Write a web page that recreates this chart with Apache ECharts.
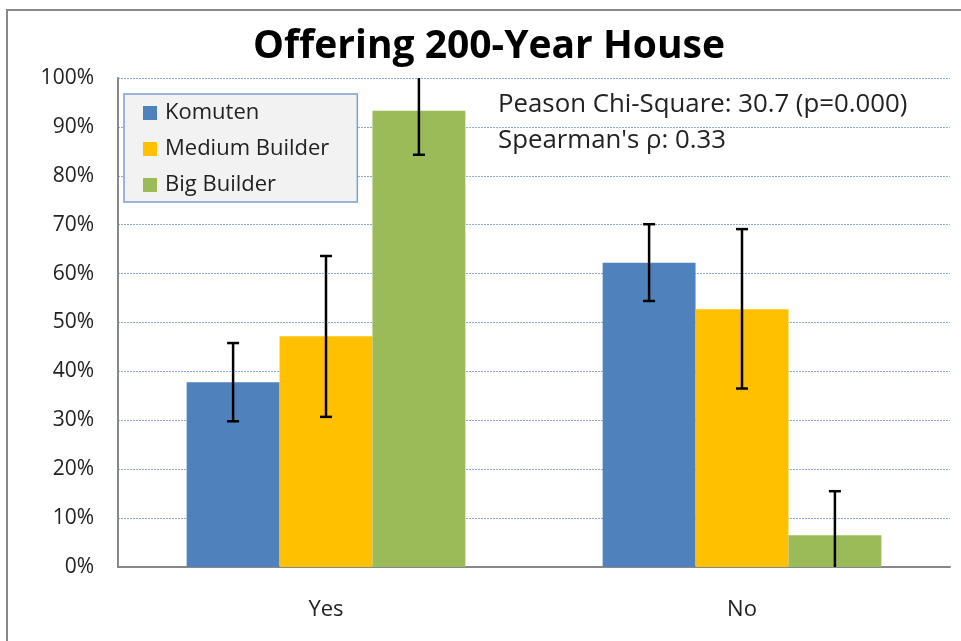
<!DOCTYPE html>
<html>
<head>
<meta charset="utf-8">
<script src="https://cdn.jsdelivr.net/npm/echarts@6/dist/echarts.min.js"></script>
<style>
  html, body { margin: 0; padding: 0; background: #fff; }
  #chart { width: 961px; height: 641px; }
</style>
</head>
<body>
<div id="chart"></div>
<script>
// chart data
const categories = ['Yes', 'No'];
const seriesNames = ['Komuten', 'Medium Builder', 'Big Builder'];
const colors = ['#4f81bd', '#ffc000', '#9bbb59'];
const komuten = [37.8, 62.2];
const mediumBuilder = [47.2, 52.7];
const bigBuilder = [93.3, 6.5];
// error bar ends (low / high), in %
const komutenErr = [[29.8, 45.8], [54.4, 70.1]];
const mediumErr = [[30.7, 63.6], [36.5, 69.1]];
const bigErr = [[84.3, 102.3], [-2.5, 15.5]];
const yTicks = [0, 10, 20, 30, 40, 50, 60, 70, 80, 90, 100];

const values = [komuten, mediumBuilder, bigBuilder];
const errs = [komutenErr, mediumErr, bigErr];
const font = '"Open Sans", "Noto Sans", sans-serif';

const barFrac = 0.67 / 3;

const barSeries = seriesNames.map((name, i) => ({
  name: name,
  type: 'bar',
  data: values[i],
  barGap: '0%',
  barCategoryGap: '33%',
  itemStyle: { color: colors[i] },
  z: 2
}));

const errSeries = errs.map((e, i) => ({
  type: 'custom',
  name: 'err' + i,
  clip: true,
  z: 5,
  data: e.map((v, k) => [k, v[0], v[1]]),
  renderItem: function (params, api) {
    const band = api.size([1, 0])[0];
    const off = (i - 1) * band * barFrac;
    const lo = api.coord([api.value(0), api.value(1)]);
    const hi = api.coord([api.value(0), api.value(2)]);
    const x = lo[0] + off;
    const cap = 6;
    const style = { stroke: '#000', lineWidth: 2.5 };
    return {
      type: 'group',
      children: [
        { type: 'line', shape: { x1: x, y1: lo[1], x2: x, y2: hi[1] }, style: style },
        { type: 'line', shape: { x1: x - cap, y1: lo[1], x2: x + cap, y2: lo[1] }, style: style },
        { type: 'line', shape: { x1: x - cap, y1: hi[1], x2: x + cap, y2: hi[1] }, style: style }
      ]
    };
  }
}));

const chart = echarts.init(document.getElementById('chart'));
chart.setOption({
  animation: false,
  textStyle: { fontFamily: font },
  title: {
    text: 'Offering 200-Year House',
    left: 484,
    textAlign: 'center',
    top: 22,
    textStyle: { fontSize: 39, fontWeight: 'bold', color: '#000', fontFamily: font }
  },
  legend: {
    data: seriesNames,
    orient: 'vertical',
    left: 124,
    top: 94,
    backgroundColor: '#f2f2f2',
    borderColor: '#7f9fcf',
    borderWidth: 1.5,
    padding: [4, 28, 2, 19],
    itemWidth: 14,
    itemHeight: 14,
    itemGap: 6,
    icon: 'rect',
    textStyle: { fontSize: 22, color: '#222', fontFamily: font, padding: [0, 0, 0, 3], lineHeight: 30 }
  },
  grid: { left: 118, right: 11, top: 78, bottom: 74, containLabel: false },
  xAxis: {
    type: 'category',
    data: categories,
    axisLine: { lineStyle: { color: '#888', width: 2 } },
    axisTick: { show: false },
    axisLabel: { fontSize: 22, color: '#222', margin: 32 },
    splitLine: { show: false }
  },
  yAxis: {
    type: 'value',
    min: 0,
    max: 100,
    interval: 10,
    axisLine: { show: true, lineStyle: { color: '#888', width: 2 } },
    axisTick: { show: false },
    axisLabel: {
      fontSize: 21, color: '#222', margin: 24,
      formatter: v => yTicks.includes(v) ? v + '%' : ''
    },
    splitLine: { lineStyle: { color: '#8eaadb', type: [2, 1], width: 1 } }
  },
  graphic: [
    {
      type: 'rect',
      shape: { x: 7, y: 10, width: 970, height: 660 },
      style: { fill: 'none', stroke: '#888', lineWidth: 2 },
      silent: true
    },
    {
      type: 'text', left: 498, top: 92,
      style: { text: 'Peason Chi-Square: 30.7 (p=0.000)', font: '25.8px ' + font, fill: '#222' }
    },
    {
      type: 'text', left: 498, top: 128,
      style: { text: "Spearman's ρ: 0.33", font: '25.8px ' + font, fill: '#222' }
    }
  ],
  series: barSeries.concat(errSeries)
});
</script>
</body>
</html>
